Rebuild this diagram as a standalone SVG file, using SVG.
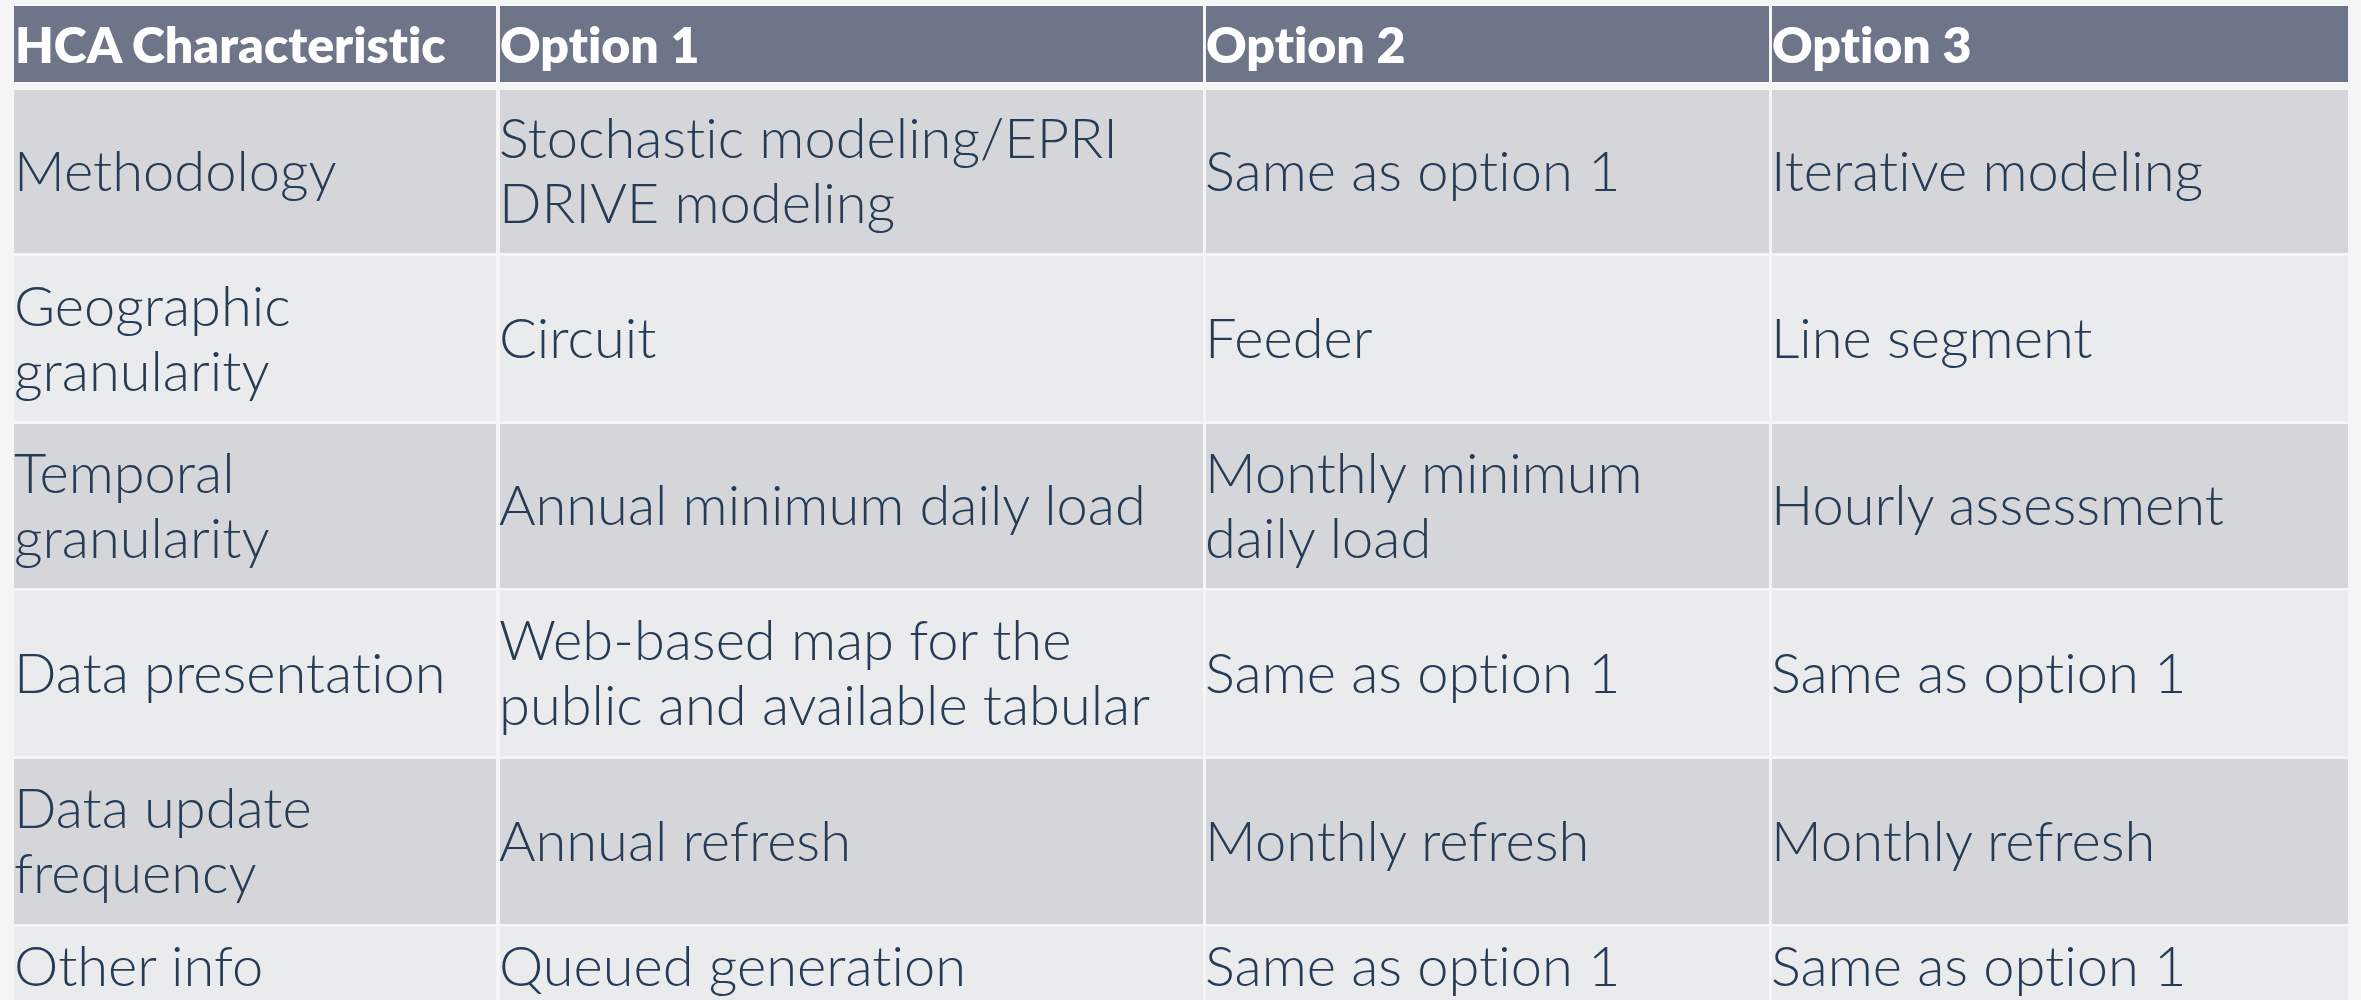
<svg xmlns="http://www.w3.org/2000/svg" width="2361" height="1000" viewBox="0 0 2361 1000">
  <style>
    .page { fill: #f5f5f5; }
    .hdr { fill: #6e7589; }
    .dark { fill: #d4d6da; }
    .light { fill: #e9ebed; }
    text { font-family: Lato, "Open Sans", "Liberation Sans", sans-serif; font-variant-ligatures: none; font-feature-settings: "liga" 0, "clig" 0; }
    .ht { font-weight: 800; font-size: 50px; fill: #ffffff; }
    .bt { font-weight: 300; font-size: 56px; fill: #263b56; }
  </style>
  <rect class="page" x="0" y="0" width="2361" height="1000"/>

  <!-- header row -->
  <g id="header">
    <rect class="hdr" x="14" y="6" width="482" height="76"/>
    <rect class="hdr" x="500" y="6" width="703" height="76"/>
    <rect class="hdr" x="1206" y="6" width="563" height="76"/>
    <rect class="hdr" x="1772" y="6" width="576" height="76"/>
    <text class="ht" x="15" y="63">HCA Characteristic</text>
    <text class="ht" x="500" y="63">Option 1</text>
    <text class="ht" x="1206" y="63">Option 2</text>
    <text class="ht" x="1772" y="63">Option 3</text>
  </g>

  <!-- row 1 -->
  <g id="row-methodology">
    <rect class="dark" x="14" y="90" width="482" height="163"/>
    <rect class="dark" x="500" y="90" width="703" height="163"/>
    <rect class="dark" x="1206" y="90" width="563" height="163"/>
    <rect class="dark" x="1772" y="90" width="576" height="163"/>
    <text class="bt" x="14" y="191">Methodology</text>
    <text class="bt" x="499" y="158">Stochastic modeling/EPRI</text>
    <text class="bt" x="499" y="223">DRIVE modeling</text>
    <text class="bt" x="1205" y="191">Same as option 1</text>
    <text class="bt" x="1771" y="191">Iterative modeling</text>
  </g>

  <!-- row 2 -->
  <g id="row-geographic">
    <rect class="light" x="14" y="256" width="482" height="165"/>
    <rect class="light" x="500" y="256" width="703" height="165"/>
    <rect class="light" x="1206" y="256" width="563" height="165"/>
    <rect class="light" x="1772" y="256" width="576" height="165"/>
    <text class="bt" x="14" y="326">Geographic</text>
    <text class="bt" x="14" y="391">granularity</text>
    <text class="bt" x="499" y="358">Circuit</text>
    <text class="bt" x="1205" y="358">Feeder</text>
    <text class="bt" x="1771" y="358">Line segment</text>
  </g>

  <!-- row 3 -->
  <g id="row-temporal">
    <rect class="dark" x="14" y="424" width="482" height="164"/>
    <rect class="dark" x="500" y="424" width="703" height="164"/>
    <rect class="dark" x="1206" y="424" width="563" height="164"/>
    <rect class="dark" x="1772" y="424" width="576" height="164"/>
    <text class="bt" x="14" y="493">Temporal</text>
    <text class="bt" x="14" y="558">granularity</text>
    <text class="bt" x="499" y="525">Annual minimum daily load</text>
    <text class="bt" x="1205" y="493">Monthly minimum</text>
    <text class="bt" x="1205" y="558">daily load</text>
    <text class="bt" x="1771" y="525">Hourly assessment</text>
  </g>

  <!-- row 4 -->
  <g id="row-presentation">
    <rect class="light" x="14" y="591" width="482" height="165"/>
    <rect class="light" x="500" y="591" width="703" height="165"/>
    <rect class="light" x="1206" y="591" width="563" height="165"/>
    <rect class="light" x="1772" y="591" width="576" height="165"/>
    <text class="bt" x="14" y="693">Data presentation</text>
    <text class="bt" x="499" y="660">Web-based map for the</text>
    <text class="bt" x="499" y="725">public and available tabular</text>
    <text class="bt" x="1205" y="693">Same as option 1</text>
    <text class="bt" x="1771" y="693">Same as option 1</text>
  </g>

  <!-- row 5 -->
  <g id="row-update">
    <rect class="dark" x="14" y="759" width="482" height="165"/>
    <rect class="dark" x="500" y="759" width="703" height="165"/>
    <rect class="dark" x="1206" y="759" width="563" height="165"/>
    <rect class="dark" x="1772" y="759" width="576" height="165"/>
    <text class="bt" x="14" y="828">Data update</text>
    <text class="bt" x="14" y="893">frequency</text>
    <text class="bt" x="499" y="861">Annual refresh</text>
    <text class="bt" x="1205" y="861">Monthly refresh</text>
    <text class="bt" x="1771" y="861">Monthly refresh</text>
  </g>

  <!-- row 6 -->
  <g id="row-other">
    <rect class="light" x="14" y="927" width="482" height="73"/>
    <rect class="light" x="500" y="927" width="703" height="73"/>
    <rect class="light" x="1206" y="927" width="563" height="73"/>
    <rect class="light" x="1772" y="927" width="576" height="73"/>
    <text class="bt" x="14" y="986">Other info</text>
    <text class="bt" x="499" y="986">Queued generation</text>
    <text class="bt" x="1205" y="986">Same as option 1</text>
    <text class="bt" x="1771" y="986">Same as option 1</text>
  </g>

  <g id="connectors"/>
</svg>
